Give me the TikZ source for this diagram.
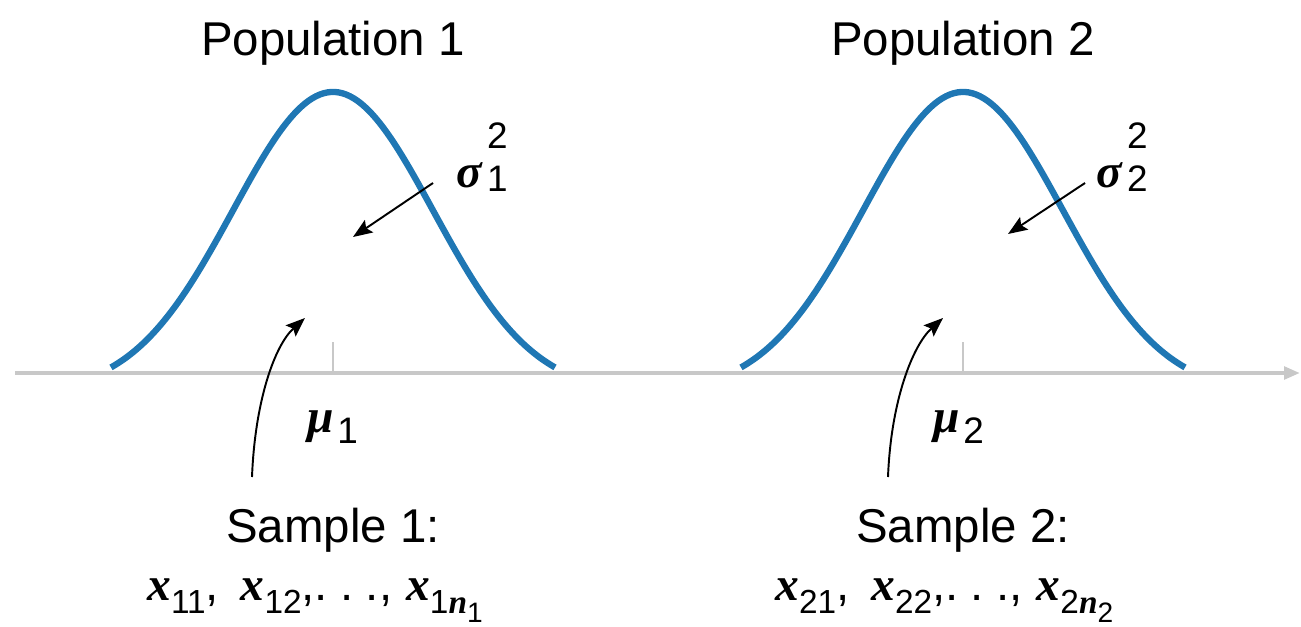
\documentclass[tikz,border=0pt]{standalone}
\usepackage{fontspec}
\setmainfont{Liberation Sans}
\newfontfamily\mserif{Liberation Serif}
\usetikzlibrary{arrows.meta}
\definecolor{curveblue}{RGB}{31,119,180}
\definecolor{axisgray}{RGB}{200,200,200}
\newcommand{\bi}{\mserif\bfseries\itshape}
\newcommand{\lowr}[3]{\raisebox{-#1}{\fontsize{#2}{#2}\selectfont #3}}
\newcommand{\upr}[3]{\raisebox{#1}{\fontsize{#2}{#2}\selectfont #3}}
\newcommand{\dotsgap}{.\hspace{7pt}.\hspace{7pt}.}
\tikzset{
  lbl/.style={font=\fontsize{27}{32}\selectfont, inner sep=0pt},
  axisline/.style={draw=axisgray, line width=2.3pt, -{Triangle[length=9pt,width=7pt]}},
  tickline/.style={draw=axisgray, line width=1.4pt},
  bell/.style={draw=curveblue, line width=3.6pt},
  pointer/.style={draw=black, line width=1.1pt, -{Stealth[length=11pt,width=8.5pt,inset=2pt]}}
}
\begin{document}
\begin{tikzpicture}[x=0.02cm,y=-0.02cm]
\useasboundingbox (0,0) rectangle (1301,626);
% axis
\coordinate (axL) at (15,373);
\coordinate (axR) at (1300,373);
\draw[axisline] (axL) -- (axR);
% ticks
\coordinate (t1top) at (333,342);
\coordinate (t1bot) at (333,373);
\coordinate (t2top) at (963,342);
\coordinate (t2bot) at (963,373);
\draw[tickline] (t1top) -- (t1bot);
\draw[tickline] (t2top) -- (t2bot);
% bell curves
\draw[bell] plot[domain=-222:222, samples=120, smooth] ({333+\x},{393-301*exp(-0.5*(\x/100)*(\x/100))});
\draw[bell] plot[domain=-222:222, samples=120, smooth] ({963+\x},{393-301*exp(-0.5*(\x/100)*(\x/100))});
% titles
\node[lbl, anchor=base] (pop1) at (333,55) {Population 1};
\node[lbl, anchor=base] (pop2) at (963,55) {Population 2};
% means
\node[lbl, anchor=base west] (mu1) at (307,432) {{\bi μ}\hspace{2pt}\lowr{6.5pt}{21}{1}};
\node[lbl, anchor=base west] (mu2) at (933,432) {{\bi μ}\hspace{2pt}\lowr{6.5pt}{21}{2}};
% variances
\node[lbl, anchor=base west] (sig1) at (456,187) {{\bi σ}\hspace{3pt}\rlap{\upr{22pt}{21}{2}}\lowr{2.8pt}{21}{1}};
\node[lbl, anchor=base west] (sig2) at (1096,187) {{\bi σ}\hspace{3pt}\rlap{\upr{22pt}{21}{2}}\lowr{2.8pt}{21}{2}};
% samples
\node[lbl, anchor=base] (samp1) at (333,542) {Sample 1:};
\node[lbl, anchor=base] (samp2) at (963,542) {Sample 2:};
\node[lbl, anchor=base west] (data1) at (147,600) {{\bi x}\lowr{7.4pt}{19}{11},\hspace{5pt} {\bi x}\lowr{7.4pt}{19}{12},\dotsgap,\hspace{8pt}{\bi x}\lowr{7.4pt}{19}{1{\bi n}\lowr{5.5pt}{16}{1}}};
\node[lbl, anchor=base west] (data2) at (775,600) {{\bi x}\lowr{7.4pt}{19}{21},\hspace{5pt} {\bi x}\lowr{7.4pt}{19}{22},\dotsgap,\hspace{8pt}{\bi x}\lowr{7.4pt}{19}{2{\bi n}\lowr{5.5pt}{16}{2}}};
% pointer arrows
\coordinate (s1a) at (433,183);
\coordinate (s1b) at (353,237);
\coordinate (s2a) at (1085,183);
\coordinate (s2b) at (1008,234);
\draw[pointer] (s1a) -- (s1b);
\draw[pointer] (s2a) -- (s2b);
\coordinate (p1a) at (252,477);
\coordinate (p1b) at (305,318);
\coordinate (p2a) at (888,477);
\coordinate (p2b) at (943,318);
\draw[pointer] (p1a) .. controls (255,400) and (275,345) .. (p1b);
\draw[pointer] (p2a) .. controls (891,400) and (913,345) .. (p2b);
\end{tikzpicture}
\end{document}
